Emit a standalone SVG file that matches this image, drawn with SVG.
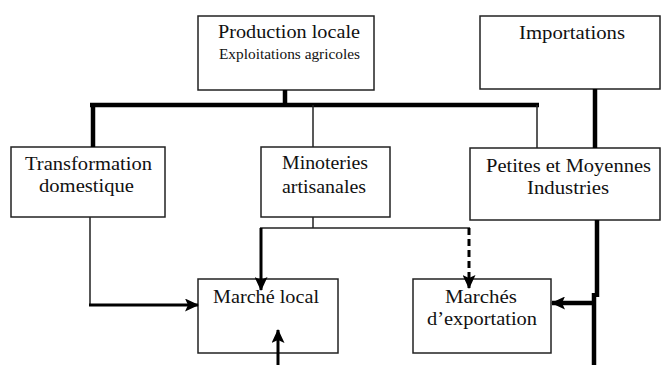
<svg xmlns="http://www.w3.org/2000/svg" width="663" height="365" viewBox="0 0 663 365">
<defs>
<style>
.box{fill:#fff;stroke:#222;stroke-width:1.5}
.t{font-family:"Liberation Serif","Times New Roman",serif;font-size:19px;fill:#111;text-anchor:start}
.s{font-family:"Liberation Serif","Times New Roman",serif;font-size:14px;fill:#111}
.thin{stroke:#222;stroke-width:1.5;fill:none}
.thick{stroke:#000;stroke-width:4.5;fill:none}
.arr{stroke:#000;stroke-width:3;fill:none}
</style>
<marker id="ah" markerUnits="userSpaceOnUse" markerWidth="14" markerHeight="13" refX="13" refY="6.5" orient="auto">
<path d="M0,0 L14,6.5 L0,13 L3,6.5 Z" fill="#000"/>
</marker>
</defs>
<g id="production">
<rect class="box" x="198" y="16" width="176" height="74"/>
<text class="t" x="218" y="38" textLength="142" lengthAdjust="spacingAndGlyphs">Production locale</text>
<text class="s" x="219" y="59" textLength="141" lengthAdjust="spacingAndGlyphs">Exploitations agricoles</text>
</g>
<g id="importations">
<rect class="box" x="480" y="16" width="180" height="73"/>
<text class="t" x="519" y="39" textLength="106" lengthAdjust="spacingAndGlyphs">Importations</text>
</g>
<g id="transformation">
<rect class="box" x="11" y="147" width="154" height="70"/>
<text class="t" x="25" y="170" textLength="127" lengthAdjust="spacingAndGlyphs">Transformation</text>
<text class="t" x="39" y="192" textLength="95" lengthAdjust="spacingAndGlyphs">domestique</text>
</g>
<g id="minoteries">
<rect class="box" x="261" y="147" width="129" height="70"/>
<text class="t" x="282" y="169" textLength="86" lengthAdjust="spacingAndGlyphs">Minoteries</text>
<text class="t" x="282" y="193" textLength="84" lengthAdjust="spacingAndGlyphs">artisanales</text>
</g>
<g id="pmi">
<rect class="box" x="470" y="148" width="190" height="72"/>
<text class="t" x="486" y="172" textLength="165" lengthAdjust="spacingAndGlyphs">Petites et Moyennes</text>
<text class="t" x="527" y="194" textLength="82" lengthAdjust="spacingAndGlyphs">Industries</text>
</g>
<g id="marche-local">
<rect class="box" x="198" y="279" width="140" height="74"/>
<text class="t" x="213" y="303" textLength="106" lengthAdjust="spacingAndGlyphs">Marché local</text>
</g>
<g id="marches-export">
<rect class="box" x="413" y="279" width="138" height="74"/>
<text class="t" x="445" y="303" textLength="72" lengthAdjust="spacingAndGlyphs">Marchés</text>
<text class="t" x="427" y="325" textLength="110" lengthAdjust="spacingAndGlyphs">d’exportation</text>
</g>
<g id="connectors">
<line class="thick" x1="285" y1="90" x2="285" y2="105"/>
<line class="thick" x1="90" y1="105" x2="539" y2="105"/>
<line class="thick" x1="93" y1="105" x2="93" y2="147"/>
<line class="thin" x1="313" y1="105" x2="313" y2="147"/>
<line class="thin" x1="537" y1="105" x2="537" y2="148"/>
<line class="thick" x1="595" y1="89" x2="595" y2="148"/>
<line class="thin" x1="313" y1="217" x2="313" y2="228"/>
<line class="thin" x1="260" y1="228" x2="470" y2="228"/>
<line class="arr" x1="261" y1="228" x2="261" y2="290" marker-end="url(#ah)"/>
<line class="arr" x1="469" y1="228" x2="469" y2="288" stroke-dasharray="7,4" marker-end="url(#ah)"/>
<polyline class="thin" points="90,217 90,305 100,305"/>
<line class="arr" x1="89" y1="305" x2="198" y2="305" marker-end="url(#ah)"/>
<line class="arr" x1="278" y1="365" x2="278" y2="330" marker-end="url(#ah)"/>
<line class="thick" x1="597" y1="220" x2="597" y2="297"/>
<line class="thick" x1="594" y1="293" x2="594" y2="365"/>
<line class="thick" x1="594" y1="303" x2="552" y2="303" marker-end="url(#ah)"/>
</g>
</svg>
